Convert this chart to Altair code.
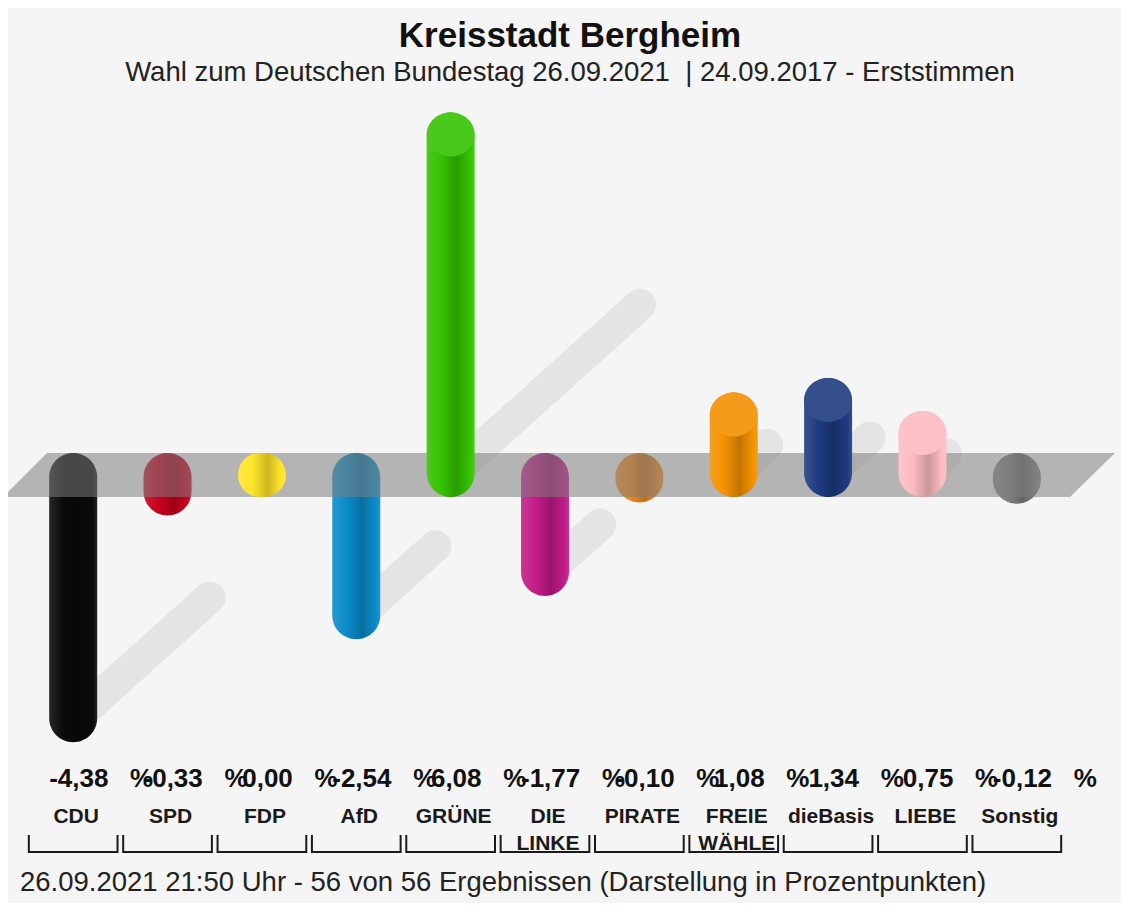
import altair as alt
import pandas as pd

# ---- data ----
parties = ["CDU", "SPD", "FDP", "AfD", "GRÜNE", "DIE LINKE", "PIRATE",
           "FREIE WÄHLE", "dieBasis", "LIEBE", "Sonstig"]
axis_labels = ["CDU", "SPD", "FDP", "AfD", "GRÜNE", "DIE\nLINKE", "PIRATE",
               "FREIE\nWÄHLE", "dieBasis", "LIEBE", "Sonstig"]
diffs = [-4.38, -0.33, 0.00, -2.54, 6.08, -1.77, -0.10, 1.08, 1.34, 0.75, -0.12]
colors = ["#0a0a0a", "#c8001e", "#ffe52a", "#0a8bc9", "#35c300", "#c21c88",
          "#f08a1c", "#f39200", "#1f3b80", "#fdbcc1", "#808080"]

title_text = "Kreisstadt Bergheim"
subtitle_text = "Wahl zum Deutschen Bundestag 26.09.2021\u00a0\u00a0| 24.09.2017 - Erststimmen"
footer_text = "26.09.2021 21:50 Uhr - 56 von 56 Ergebnissen (Darstellung in Prozentpunkten)"

df = pd.DataFrame({
    "idx": list(range(len(parties))),
    "party": parties,
    "label": axis_labels,
    "diff": diffs,
    "valtxt": [f"{v:.2f}".replace(".", ",") + "\u00a0\u00a0\u00a0%" for v in diffs],
})

FONT = "Liberation Sans"
W, H = 1048, 895
CAP = 22 / 56  # rounded cylinder cap, in value units (56 px per point)

xs = alt.Scale(domain=[-0.5, 10.5], nice=False, zero=False)
ys = alt.Scale(domain=[-(H - 467) / 56, 467 / 56], nice=False, zero=False)

base = alt.Chart(df)


def shade(hex_color, f):
    h = hex_color.lstrip("#")
    r, g, b = (int(h[i:i + 2], 16) for i in (0, 2, 4))
    return "#%02x%02x%02x" % (int(r * f), int(g * f), int(b * f))


def lighten(hex_color, f):
    h = hex_color.lstrip("#")
    r, g, b = (int(h[i:i + 2], 16) for i in (0, 2, 4))
    return "#%02x%02x%02x" % (int(r + (255 - r) * f), int(g + (255 - g) * f), int(b + (255 - b) * f))


# shadows cast on the plane
shadows = base.transform_calculate(
    sy="datum.diff < 0 ? datum.diff : 0",
    ex="datum.idx + 0.33 * abs(datum.diff)",
    ey="datum.diff / 2",
).mark_rule(strokeWidth=32, strokeCap="round", color="#e4e4e4").encode(
    x=alt.X("idx:Q", scale=xs, axis=None),
    x2="ex:Q",
    y=alt.Y("sy:Q", scale=ys, axis=None),
    y2="ey:Q",
)

ELLIPSE = "M -1 0 A 1 0.917 0 1 0 1 0 A 1 0.917 0 1 0 -1 0 Z"


def bar_layer(i):
    c = colors[i]
    grad = alt.Gradient(
        gradient="linear", x1=0, x2=1, y1=0, y2=0,
        stops=[
            alt.GradientStop(color=lighten(c, 0.12), offset=0),
            alt.GradientStop(color=c, offset=0.3),
            alt.GradientStop(color=shade(c, 0.8), offset=0.62),
            alt.GradientStop(color=c, offset=0.9),
            alt.GradientStop(color=lighten(c, 0.1), offset=1),
        ],
    )
    return base.transform_filter(alt.datum.idx == i).transform_calculate(
        ys0=f"datum.diff < 0 ? {CAP} : -{CAP}",
        ye0=f"datum.diff < 0 ? datum.diff - {CAP} : datum.diff + {CAP}",
    ).mark_bar(size=48, cornerRadius=24, color=grad).encode(
        x=alt.X("idx:Q", scale=xs, axis=None),
        y=alt.Y("ys0:Q", scale=ys, axis=None),
        y2="ye0:Q",
    )


def top_face(i):
    c = colors[i]
    return base.transform_filter(alt.datum.idx == i).mark_point(
        shape=ELLIPSE, size=48 ** 2, filled=True, fill=lighten(c, 0.1),
        strokeOpacity=0, opacity=1,
    ).encode(
        x=alt.X("idx:Q", scale=xs, axis=None),
        y=alt.Y("diff:Q", scale=ys, axis=None),
    )


neg_layers = [bar_layer(i) for i, v in enumerate(diffs) if v < 0]
pos_layers = [bar_layer(i) for i, v in enumerate(diffs) if v >= 0]
top_layers = [top_face(i) for i, v in enumerate(diffs) if v > 0]

# translucent zero plane (parallelogram)
band_path = "M -0.921 -0.0396 L 1 -0.0396 L 0.919 0.0396 L -1 0.0396 Z"
band = alt.Chart(pd.DataFrame({"z": [0]})).mark_point(
    shape=band_path, size=1112 ** 2, filled=True, fill="#7d7d7d",
    fillOpacity=0.54, strokeOpacity=0, opacity=1,
).encode(
    x=alt.value(538),
    y=alt.Y("z:Q", scale=ys, axis=None),
)

value_labels = base.mark_text(
    font=FONT, fontSize=26, fontWeight="bold", color="#111111",
    baseline="alphabetic", align="center", dx=28,
).encode(
    x=alt.X("idx:Q", scale=xs, axis=None),
    y=alt.value(779),
    text="valtxt:N",
)

cat_labels = base.mark_text(
    font=FONT, fontSize=21, fontWeight="bold", color="#1a1a1a", baseline="alphabetic",
    align="center", dx=3, lineBreak="\n", lineHeight=27,
).encode(
    x=alt.X("idx:Q", scale=xs, axis=None),
    y=alt.value(815),
    text="label:N",
)

brk = base.transform_calculate(
    xl="datum.idx - 0.47", xr="datum.idx + 0.47"
)
brk_h = brk.mark_rule(color="#1a1a1a", strokeWidth=2).encode(
    x=alt.X("xl:Q", scale=xs, axis=None), x2="xr:Q", y=alt.value(844)
)
brk_l = brk.mark_rule(color="#1a1a1a", strokeWidth=2).encode(
    x=alt.X("xl:Q", scale=xs, axis=None), y=alt.value(827), y2=alt.value(845)
)
brk_r = brk.mark_rule(color="#1a1a1a", strokeWidth=2).encode(
    x=alt.X("xr:Q", scale=xs, axis=None), y=alt.value(827), y2=alt.value(845)
)

title = alt.Chart(pd.DataFrame({"t": [title_text]})).mark_text(
    font=FONT, fontSize=35, fontWeight="bold", color="#111111",
    baseline="alphabetic", align="center",
).encode(x=alt.value(549), y=alt.value(39), text="t:N")

subtitle = alt.Chart(pd.DataFrame({"t": [subtitle_text]})).mark_text(
    font=FONT, fontSize=27.5, color="#222222", baseline="alphabetic", align="center",
).encode(x=alt.value(549), y=alt.value(73), text="t:N")

footer = alt.Chart(pd.DataFrame({"t": [footer_text]})).mark_text(
    font=FONT, fontSize=27.5, color="#222222", baseline="alphabetic", align="left",
).encode(x=alt.value(-1), y=alt.value(883), text="t:N")

chart = alt.layer(
    shadows, *neg_layers, band, *pos_layers, *top_layers,
    value_labels, cat_labels, brk_h, brk_l, brk_r,
    title, subtitle, footer,
).properties(
    width=W, height=H,
    autosize=alt.AutoSizeParams(type="none"),
    padding={"left": 13, "top": 0, "right": 52, "bottom": 0},
    background="#f5f5f5",
).configure_view(stroke=None)

chart.save("out.html", embed_options={"renderer": "svg", "actions": False})
